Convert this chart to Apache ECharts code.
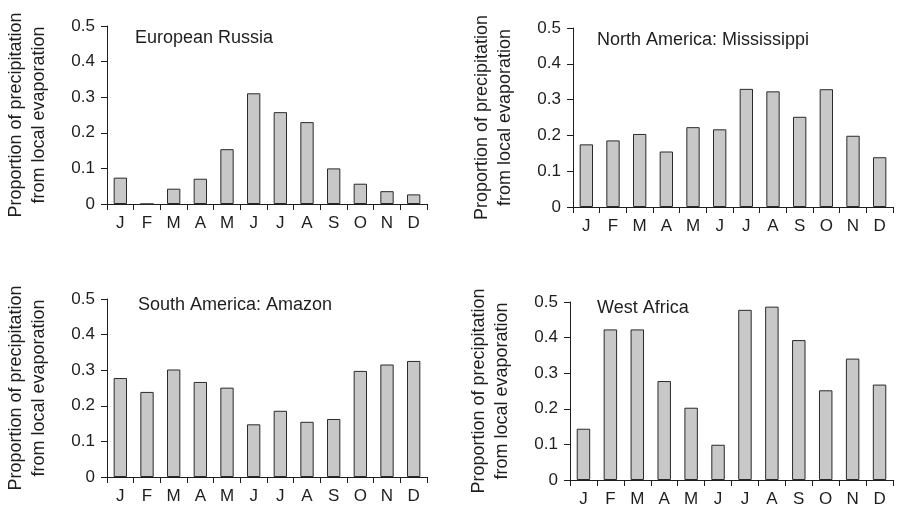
<!DOCTYPE html>
<html>
<head>
<meta charset="utf-8">
<script src="https://cdn.jsdelivr.net/npm/echarts@6/dist/echarts.min.js"></script>
<style>
html,body{margin:0;padding:0;background:#fff;}
#chart{width:897px;height:511px;}
</style>
</head>
<body>
<div id="chart"></div>
<script>
const months = ['J','F','M','A','M','J','J','A','S','O','N','D'];
const yTicks = [0, 0.1, 0.2, 0.3, 0.4, 0.5];
const panelTitles = ['European Russia', 'North America: Mississippi', 'South America: Amazon', 'West Africa'];
const yAxisTitle = 'Proportion of precipitation\nfrom local evaporation';

const europeanRussia = [0.074, 0.0, 0.043, 0.071, 0.154, 0.311, 0.258, 0.230, 0.100, 0.057, 0.036, 0.027];
const mississippi    = [0.175, 0.186, 0.204, 0.155, 0.223, 0.217, 0.330, 0.323, 0.252, 0.329, 0.199, 0.139];
const amazon         = [0.278, 0.239, 0.302, 0.267, 0.251, 0.148, 0.186, 0.155, 0.163, 0.298, 0.316, 0.326];
const westAfrica     = [0.144, 0.423, 0.423, 0.278, 0.203, 0.099, 0.478, 0.487, 0.393, 0.252, 0.341, 0.268];

const seriesData = [europeanRussia, mississippi, amazon, westAfrica];

// layout (pixels)
const grids = [
  {left: 107, top: 26, width: 320, height: 178},
  {left: 573, top: 28, width: 320, height: 179},
  {left: 107, top: 299, width: 320, height: 178},
  {left: 570, top: 302, width: 323, height: 178}
];
const titlePos = [
  {left: 135, top: 29},
  {left: 597, top: 31},
  {left: 138, top: 296},
  {left: 597, top: 299}
];

const FONT = '"Liberation Sans", Arial, Helvetica, sans-serif';
const INK = '#1e1e1e';

const option = {
  backgroundColor: '#fff',
  animation: false,
  title: panelTitles.map((t, i) => ({
    text: t,
    left: titlePos[i].left,
    top: titlePos[i].top,
    padding: 0,
    textStyle: {fontFamily: FONT, fontSize: 18, fontWeight: 'normal', color: INK}
  })),
  grid: grids.map(g => Object.assign({containLabel: false}, g)),
  xAxis: grids.map((g, i) => ({
    type: 'category',
    gridIndex: i,
    data: months,
    axisLine: {lineStyle: {color: INK, width: 1}},
    axisTick: {show: true, length: 6, lineStyle: {color: INK}},
    axisLabel: {fontFamily: FONT, fontSize: 17, color: INK, margin: 11, interval: 0}
  })),
  yAxis: grids.map((g, i) => ({
    type: 'value',
    gridIndex: i,
    min: yTicks[0],
    max: yTicks[yTicks.length - 1],
    interval: 0.1,
    name: yAxisTitle,
    nameLocation: 'middle',
    nameGap: 56,
    nameTextStyle: {fontFamily: FONT, fontSize: 18, color: INK, lineHeight: 23},
    axisLine: {show: true, lineStyle: {color: INK, width: 1}},
    axisTick: {show: true, length: 6, lineStyle: {color: INK}},
    splitLine: {show: false},
    axisLabel: {fontFamily: FONT, fontSize: 17, color: INK, margin: 12}
  })),
  series: seriesData.map((d, i) => ({
    type: 'bar',
    xAxisIndex: i,
    yAxisIndex: i,
    data: d,
    barWidth: '50%',
    itemStyle: {color: '#c8c8c8', borderColor: '#2a2a2a', borderWidth: 1}
  }))
};

const chart = echarts.init(document.getElementById('chart'), null, {renderer: 'canvas'});
chart.setOption(option);
</script>
</body>
</html>
